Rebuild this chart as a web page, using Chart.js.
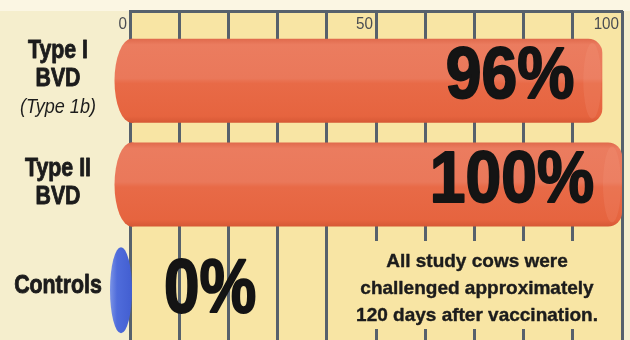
<!DOCTYPE html>
<html>
<head>
<meta charset="utf-8">
<script src="https://cdn.jsdelivr.net/npm/chart.js@4.4.0/dist/chart.umd.min.js"></script>
<style>
  html, body { margin: 0; padding: 0; background: #f5eecd; }
</style>
</head>
<body>
<canvas id="vaccChart" width="630" height="340"></canvas>
<script>
// data
const categories = [['Type I', 'BVD'], ['Type II', 'BVD'], ['Controls']];
const subLabels = ['(Type 1b)', '', ''];
const protectedPct = [96, 100, 0];
const tickLabels = [0, 50, 100];
const noteLines = ['All study cows were', 'challenged approximately', '120 days after vaccination.'];

const gridColor = '#57616c';
const plotBg = '#f8e5a4';

// cylinder shading, lighter top half / darker bottom half
function barFill(ctx) {
  const chart = ctx.chart;
  const y = chart.scales.y;
  const yc = y ? y.getPixelForValue(ctx.dataIndex) : NaN;
  if (!isFinite(yc)) return '#e86a46';
  const g = chart.ctx.createLinearGradient(0, yc - 42, 0, yc + 42);
  g.addColorStop(0, '#e06a4c');
  g.addColorStop(0.07, '#eb7c5f');
  g.addColorStop(0.47, '#ea785a');
  g.addColorStop(0.53, '#e86a47');
  g.addColorStop(0.92, '#e6643f');
  g.addColorStop(1, '#d65835');
  return g;
}

// text with optional faux-bold stroke and horizontal squeeze
function drawText(c, text, x, y, font, align, sx, heavy) {
  c.save();
  c.font = font;
  c.textAlign = align;
  c.textBaseline = 'middle';
  c.translate(x, y);
  c.scale(sx, 1);
  c.fillText(text, 0, 0);
  if (heavy) {
    c.strokeStyle = c.fillStyle;
    c.lineWidth = heavy;
    c.lineJoin = 'round';
    c.strokeText(text, 0, 0);
  }
  c.restore();
}

const backdrop = {
  id: 'backdrop',
  beforeDraw(chart) {
    const c = chart.ctx;
    const a = chart.chartArea;
    c.save();
    c.fillStyle = '#f5eecd';
    c.fillRect(0, 0, chart.width, chart.height);
    c.fillStyle = '#fbf6e3';
    c.fillRect(0, 0, chart.width, 11);
    c.fillStyle = plotBg;
    c.fillRect(a.left, 11, a.right - a.left, chart.height - 11);
    c.restore();
  }
};

const cylinders = {
  id: 'cylinders',
  afterDatasetsDraw(chart) {
    const c = chart.ctx;
    const meta = chart.getDatasetMeta(0);
    meta.data.forEach((bar, i) => {
      const p = bar.getProps(['x', 'y', 'base', 'height'], true);
      const ry = p.height / 2;
      c.save();
      if (protectedPct[i] > 0) {
        c.fillStyle = barFill({ chart: chart, dataIndex: i });
        c.beginPath();
        c.ellipse(p.base, p.y, 17, ry, 0, Math.PI / 2, Math.PI * 1.5);
        c.fill();
        c.fillRect(p.base - 1, p.y - ry, 3, p.height);
        // faint highlight at the far end
        c.fillStyle = 'rgba(246, 170, 140, 0.16)';
        c.beginPath();
        c.ellipse(p.x - 10, p.y, 9, ry - 4, 0, 0, Math.PI * 2);
        c.fill();
      } else {
        const g = c.createLinearGradient(p.base - 20, 0, p.base, 0);
        g.addColorStop(0, '#7b93e6');
        g.addColorStop(0.35, '#4f6cdb');
        g.addColorStop(1, '#4460d2');
        c.fillStyle = g;
        c.beginPath();
        c.ellipse(p.base - 9, p.y + 2, 11, ry + 1, 0, 0, Math.PI * 2);
        c.fill();
      }
      c.restore();
    });
  }
};

const overlayText = {
  id: 'overlayText',
  afterDraw(chart) {
    const c = chart.ctx;
    const a = chart.chartArea;
    const xs = chart.scales.x;
    const ys = chart.scales.y;
    c.save();

    // frame top edge
    c.strokeStyle = gridColor;
    c.lineWidth = 3;
    c.beginPath();
    c.moveTo(a.left - 1, 11.5);
    c.lineTo(a.right + 1, 11.5);
    c.stroke();

    // axis numbers sit just left of their grid line
    c.fillStyle = '#4a4d52';
    tickLabels.forEach(v => {
      drawText(c, String(v), xs.getPixelForValue(v) - 3, 25, '16px "Liberation Sans", Arial, sans-serif', 'right', 0.95);
    });

    // category labels
    c.fillStyle = '#1c1c1c';
    categories.forEach((lines, i) => {
      const yc = ys.getPixelForValue(i);
      const all = lines.slice();
      if (subLabels[i]) all.push(subLabels[i]);
      const lh = 28;
      const top = yc - 2 - (all.length - 1) * lh / 2;
      all.forEach((t, k) => {
        const isSub = subLabels[i] && k === all.length - 1;
        if (isSub) {
          drawText(c, t, 58, top + k * lh, 'italic 21px "Liberation Sans", Arial, sans-serif', 'center', 0.86);
        } else {
          drawText(c, t, 58, top + k * lh, 'bold 26px "Liberation Sans", Arial, sans-serif', 'center', 0.82, 0.9);
        }
      });
    });

    // big percentages
    c.fillStyle = '#141414';
    const meta = chart.getDatasetMeta(0);
    meta.data.forEach((bar, i) => {
      const p = bar.getProps(['x', 'y'], true);
      const txt = protectedPct[i] + '%';
      if (protectedPct[i] > 20) {
        drawText(c, txt, p.x - 28, p.y - 3, 'bold 73px "Liberation Sans", Arial, sans-serif', 'right', 0.88, 2);
      } else {
        drawText(c, txt, p.x + 34, p.y + 3, 'bold 76px "Liberation Sans", Arial, sans-serif', 'left', 0.84, 2);
      }
    });

    // note box covers grid lines
    c.fillStyle = plotBg;
    c.fillRect(345, 241, 265, 88);
    c.fillStyle = '#1c1c1c';
    noteLines.forEach((t, k) => {
      drawText(c, t, 477, 262 + k * 27, 'bold 19px "Liberation Sans", Arial, sans-serif', 'center', 1, 0.4);
    });
    c.restore();
  }
};

new Chart(document.getElementById('vaccChart'), {
  type: 'bar',
  data: {
    labels: categories,
    datasets: [{
      data: protectedPct,
      backgroundColor: barFill,
      borderWidth: 0,
      borderRadius: 14,
      borderSkipped: 'start',
      barPercentage: 0.81,
      categoryPercentage: 1,
      clip: false
    }]
  },
  options: {
    indexAxis: 'y',
    responsive: false,
    animation: false,
    layout: { padding: { left: 130, right: 8, top: 11, bottom: 0 } },
    plugins: { legend: { display: false }, tooltip: { enabled: false } },
    scales: {
      x: {
        position: 'top',
        min: 0,
        max: 100,
        border: { display: false },
        grid: { color: gridColor, lineWidth: 3, drawTicks: true, tickLength: 18 },
        ticks: { display: false, stepSize: 10 }
      },
      y: { display: false }
    }
  },
  plugins: [backdrop, cylinders, overlayText]
});
</script>
</body>
</html>
